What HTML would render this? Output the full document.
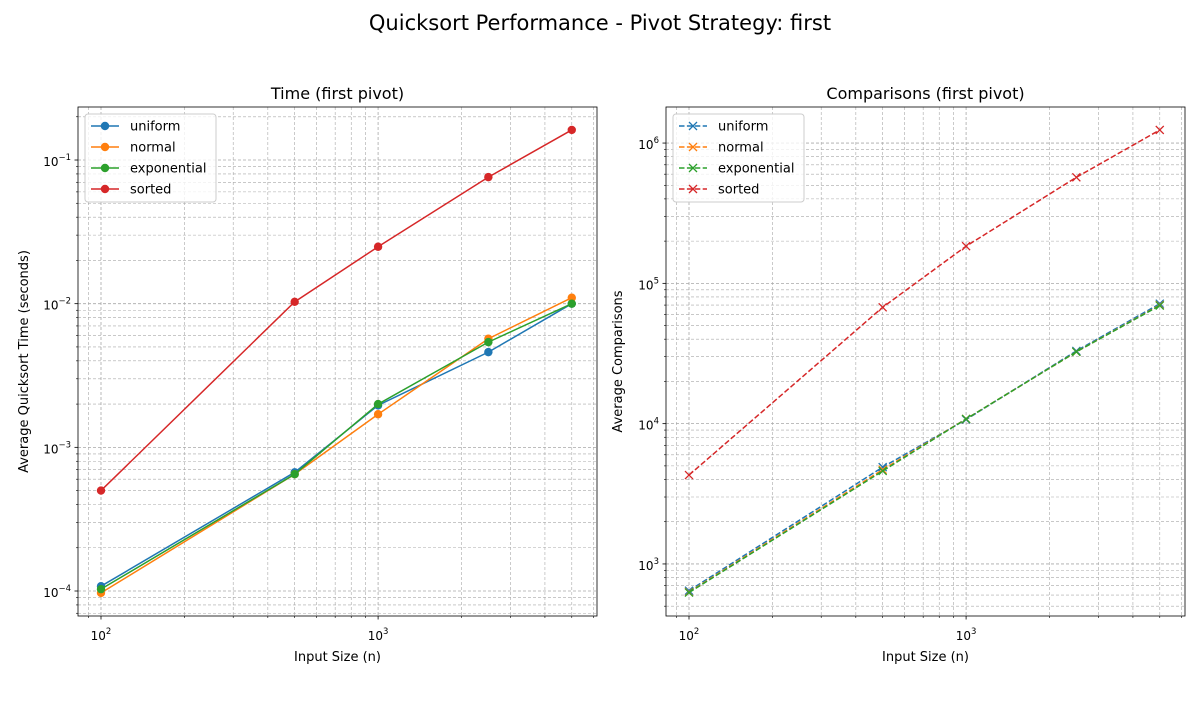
<!DOCTYPE html>
<html><head><meta charset="utf-8"><style>
body{margin:0;background:#fff}
svg{font-family:"DejaVu Sans","Liberation Sans",sans-serif}
</style></head><body>
<svg id="s" width="1200" height="700" xmlns="http://www.w3.org/2000/svg">
<text x="600" y="30" text-anchor="middle" font-size="21">Quicksort Performance - Pivot Strategy: first</text>
</svg>
<script>
const sizes=[100,500,1000,2500,5000];
const seriesNames=["uniform","normal","exponential","sorted"];
const colors=["#1f77b4","#ff7f0e","#2ca02c","#d62728"];
const timeUniform=[1.08e-4,6.7e-4,1.96e-3,4.6e-3,0.0100];
const timeNormal=[9.7e-5,6.5e-4,1.7e-3,5.7e-3,0.0110];
const timeExponential=[1.03e-4,6.5e-4,2.0e-3,5.4e-3,0.0100];
const timeSorted=[5.0e-4,0.0103,0.0249,0.076,0.162];
const compUniform=[645,4900,10700,33000,71600];
const compNormal=[630,4700,10800,32500,70000];
const compExponential=[625,4600,10800,32500,69500];
const compSorted=[4300,67500,184000,570000,1240000];
const leftYTicks=[-4,-3,-2,-1];
const rightYTicks=[3,4,5,6];
const xTicks=[2,3];

const svg=document.getElementById('s');
const NS="http://www.w3.org/2000/svg";
function el(tag,attrs,parent){const e=document.createElementNS(NS,tag);for(const k in attrs)e.setAttribute(k,attrs[k]);(parent||svg).appendChild(e);return e;}

function panel(o){
  const g=el('g',{});
  
  
  const L=o.x0,R=o.x1,T=o.y0,B=o.y1;
  const sx=v=>L+(Math.log10(v)-o.xmin)/(o.xmax-o.xmin)*(R-L);
  const sy=v=>B-(Math.log10(v)-o.ymin)/(o.ymax-o.ymin)*(B-T);
  for(let d=Math.floor(o.xmin);d<=Math.ceil(o.xmax);d++)for(let m=1;m<10;m++){
    const v=m*Math.pow(10,d),lv=Math.log10(v); if(lv<o.xmin||lv>o.xmax)continue;
    const x=sx(v);
    const gl=el('line',{x1:x,x2:x,y1:T,y2:B,stroke:'#a8a8a8','stroke-width':m==1?0.8:0.6,'stroke-dasharray':'3,2'},g);
    
    el('line',{x1:x,x2:x,y1:B,y2:B+(m==1?3.5:2),stroke:'#000','stroke-width':m==1?0.8:0.6},g);
  }
  for(let d=Math.floor(o.ymin);d<=Math.ceil(o.ymax);d++)for(let m=1;m<10;m++){
    const v=m*Math.pow(10,d),lv=Math.log10(v); if(lv<o.ymin||lv>o.ymax)continue;
    const y=sy(v);
    const gl=el('line',{x1:L,x2:R,y1:y,y2:y,stroke:'#a8a8a8','stroke-width':m==1?0.8:0.6,'stroke-dasharray':'3,2'},g);
    
    el('line',{x1:L,x2:L-(m==1?3.5:2),y1:y,y2:y,stroke:'#000','stroke-width':m==1?0.8:0.6},g);
  }
  xTicks.forEach(d=>{
    const t=el('text',{x:sx(Math.pow(10,d)),y:B+24,'text-anchor':'middle','font-size':12},g);
    
    t.innerHTML='10<tspan dy="-6" font-size="8.5">'+d+'</tspan>';
  });
  o.yTicks.forEach(d=>{
    const t=el('text',{x:L-7,y:sy(Math.pow(10,d))+6,'text-anchor':'end','font-size':12},g);
    
    t.innerHTML='10<tspan dy="-6" font-size="8.5">'+(d<0?'\u2212'+(-d):d)+'</tspan>';
  });
  const fr=el('rect',{x:L,y:T,width:R-L,height:B-T,fill:'none',stroke:'#000','stroke-width':0.8},g);
  
  const tt=el('text',{x:(L+R)/2,y:T-8,'text-anchor':'middle','font-size':16},g);
  
  tt.textContent=o.title;
  const xl=el('text',{x:(L+R)/2,y:B+45,'text-anchor':'middle','font-size':13},g);
  
  xl.textContent='Input Size (n)';
  const yx=L-o.ylabOff, yy=(T+B)/2;
  const yl=el('text',{x:yx,y:yy,'text-anchor':'middle','font-size':13,transform:`rotate(-90 ${yx} ${yy})`},g);
  
  yl.textContent=o.ylabel;
  o.data.forEach((arr,i)=>{
    const pts=sizes.map((n,j)=>sx(n)+','+sy(arr[j])).join(' ');
    const pl=el('polyline',{points:pts,fill:'none',stroke:colors[i],'stroke-width':1.5,'stroke-dasharray':o.dashed?'5.5,2.4':'none'},g);
    
    sizes.forEach((n,j)=>{
      const x=sx(n),y=sy(arr[j]);
      if(o.dashed){
        const p=el('path',{d:`M${x-4},${y-4}L${x+4},${y+4}M${x-4},${y+4}L${x+4},${y-4}`,stroke:colors[i],'stroke-width':1.3},g);
        
      }else{
        const c=el('circle',{cx:x,cy:y,r:4.2,fill:colors[i]},g);
        
      }
    });
  });
  const lg=el('g',{},g);
  
  el('rect',{x:L+7,y:T+7,width:131,height:88,rx:3,fill:'#fff','fill-opacity':0.8,stroke:'#ccc','stroke-width':1},lg);
  seriesNames.forEach((nm,i)=>{
    const y=T+19+i*21;
    const e=el('g',{},lg);
    
    el('line',{x1:L+13,x2:L+41,y1:y,y2:y,stroke:colors[i],'stroke-width':1.5,'stroke-dasharray':o.dashed?'5.5,2.4':'none'},e);
    const x=L+27;
    if(o.dashed) el('path',{d:`M${x-4},${y-4}L${x+4},${y+4}M${x-4},${y+4}L${x+4},${y-4}`,stroke:colors[i],'stroke-width':1.3},e);
    else el('circle',{cx:x,cy:y,r:4.2,fill:colors[i]},e);
    const t=el('text',{x:L+52,y:y+4.5,'font-size':13},e);t.textContent=nm;
  });
}
panel({name:'time-chart',x0:78,x1:597,y0:107,y1:616,xmin:1.917,xmax:3.79,ymin:-4.174,ymax:-0.631,
  yTicks:leftYTicks,title:'Time (first pivot)',ylabel:'Average Quicksort Time (seconds)',ylabOff:50,dashed:false,
  data:[timeUniform,timeNormal,timeExponential,timeSorted]});
panel({name:'comparisons-chart',x0:666,x1:1185,y0:107,y1:616,xmin:1.917,xmax:3.79,ymin:2.629,ymax:6.257,
  yTicks:rightYTicks,title:'Comparisons (first pivot)',ylabel:'Average Comparisons',ylabOff:44,dashed:true,
  data:[compUniform,compNormal,compExponential,compSorted]});
</script>
</body></html>
